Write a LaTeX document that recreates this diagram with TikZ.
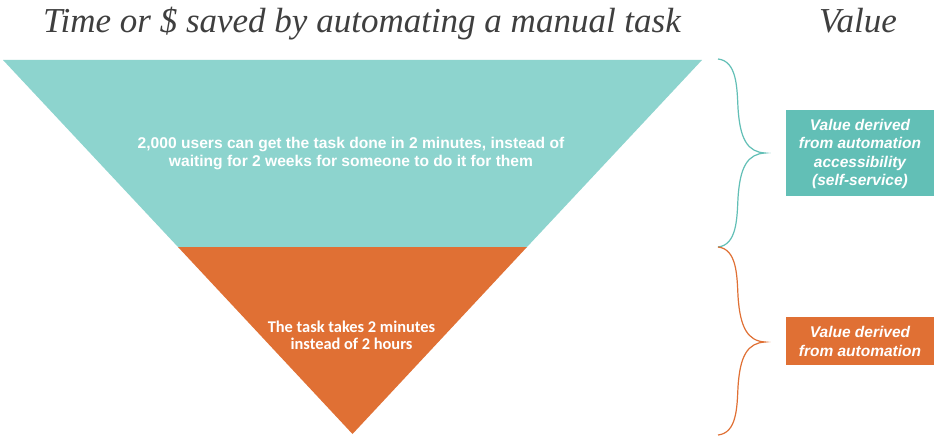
\documentclass[tikz,border=0pt]{standalone}
\usepackage{fontspec}
\setmainfont{Liberation Serif}
\newfontfamily\arialf{Liberation Sans}
\newfontfamily\calf{Carlito}
\definecolor{tealL}{HTML}{8DD4CE}
\definecolor{tealD}{HTML}{62BFB6}
\definecolor{orng}{HTML}{E07034}
\definecolor{titlec}{HTML}{3F3F3F}
\begin{document}
\begin{tikzpicture}[x=1pt,y=-1pt,
  titletext/.style={font=\fontsize{35}{38}\selectfont\itshape, text=titlec, anchor=base, inner sep=0},
  bodytext/.style={font=\arialf\bfseries\fontsize{15.6}{17.5}\selectfont, text=white, align=center, inner sep=0},
  bodytextb/.style={font=\calf\bfseries\fontsize{16.4}{17.5}\selectfont, text=white, align=center, inner sep=0},
  valbox/.style={font=\arialf\bfseries\itshape\fontsize{15.5}{18.5}\selectfont, text=white, align=center, inner sep=0},
  bracel/.style={line width=1.2pt}]
\useasboundingbox (0,0) rectangle (936,436);
\fill[white] (0,0) rectangle (936,436);
% shapes
\fill[tealL] (3,60) -- (702,60) -- (527,247) -- (178,247) -- cycle;
\fill[orng] (178,247) -- (527,247) -- (352.5,434) -- cycle;
% titles
\node[titletext] (title) at (362,33) {Time or \$ saved by automating a manual task};
\node[titletext] (valuehead) at (858,33) {Value};
% body texts
\node[bodytext] (t1) at (351,153.5) {2,000 users can get the task done in 2 minutes, instead of\\waiting for 2 weeks for someone to do it for them};
\node[bodytextb] (t2) at (351.5,335.5) {The task takes 2 minutes\\instead of 2 hours};
% braces
\draw[bracel, tealD] (718,59) .. controls (737,61) and (737,88) .. (738,108)
  .. controls (740,140) and (748,152) .. (765,153)
  .. controls (748,154) and (740,166) .. (738,198)
  .. controls (737,218) and (737,245) .. (718,247);
\draw[bracel, orng] (718,247) .. controls (737,249) and (737,276) .. (738,296)
  .. controls (740,328) and (748,341) .. (765,342)
  .. controls (748,343) and (740,355) .. (738,387)
  .. controls (737,407) and (737,433) .. (718,435);
% value boxes
\fill[tealD] (786,110) rectangle (934,196);
\node[valbox] (v1) at (860,154) {Value derived\\from automation\\accessibility\\(self-service)};
\fill[orng] (786,317) rectangle (934,365);
\node[valbox] (v2) at (860,341.5) {Value derived\\from automation};
\end{tikzpicture}
\end{document}
